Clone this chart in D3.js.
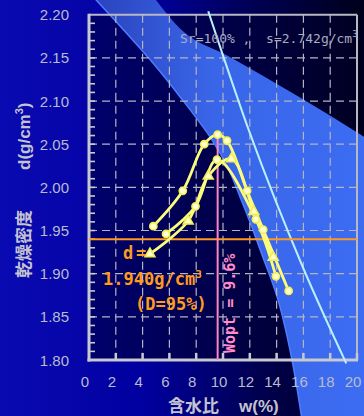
<!DOCTYPE html>
<html>
<head>
<meta charset="utf-8">
<script src="https://d3js.org/d3.v7.min.js"></script>
<style>
  html, body { margin: 0; padding: 0; background: #000040; }
  svg { display: block; }
</style>
</head>
<body>
<div id="chart"></div>
<script>
// compaction curves (w %, dry density g/cm3)
var seriesA = [[4.8,1.955],[7.0,1.996],[8.6,2.050],[9.6,2.061],[10.3,2.054],[11.8,1.996],[13.0,1.951],[14.9,1.880]];
var seriesB = [[5.75,1.946],[7.95,1.978],[9.55,2.032],[12.45,1.963],[13.95,1.897]];
var seriesC = [[4.55,1.923],[7.4,1.961],[8.9,2.013],[10.63,2.033],[12.3,1.972],[13.75,1.919]];

// zero air voids line (Sr = 100%)
var srLine = [[8.9,2.204],[12,2.063],[16,1.906],[19.2,1.796]];

// light band behind the plot
var bandUpper = [[4.95,2.218],[6.79,2.184],[10.52,2.151],[15.75,2.104],[20.6,2.058]];
var bandCorner = [[20.6,1.72]];
var bandLower = [[0.0,2.226],[4.55,2.148],[6.79,2.105],[9.18,2.055],[10.45,2.020],[11.27,1.989],[12.01,1.960],[12.91,1.922],[14.1,1.870],[15.15,1.800],[16.0,1.72]];

var dRef = 1.940, wOpt = 9.6, dMax = 2.061;

var xTicks = [0,2,4,6,8,10,12,14,16,18,20];
var yTicks = [1.80,1.85,1.90,1.95,2.00,2.05,2.10,2.15,2.20];

var W = 364, H = 416;
var x = d3.scaleLinear().domain([0,20]).range([89,357]);
var y = d3.scaleLinear().domain([1.8,2.2]).range([360,14.7]);

var svg = d3.select("#chart").append("svg")
  .attr("width", W).attr("height", H);

var defs = svg.append("defs");
var bg = defs.append("linearGradient").attr("id","bg")
  .attr("gradientUnits","userSpaceOnUse")
  .attr("x1",0).attr("y1",0).attr("x2",W).attr("y2",0);
bg.append("stop").attr("offset",0).attr("stop-color","#0a0ab2");
bg.append("stop").attr("offset",0.4).attr("stop-color","#0000a0");
bg.append("stop").attr("offset",0.7).attr("stop-color","#000052");
bg.append("stop").attr("offset",1).attr("stop-color","#00001c");

var pf = defs.append("linearGradient").attr("id","pf")
  .attr("gradientUnits","userSpaceOnUse")
  .attr("x1",89).attr("y1",0).attr("x2",357).attr("y2",0);
pf.append("stop").attr("offset",0).attr("stop-color","#00006e");
pf.append("stop").attr("offset",1).attr("stop-color","#000024");

var bf = defs.append("linearGradient").attr("id","bf")
  .attr("gradientUnits","userSpaceOnUse")
  .attr("x1",90).attr("y1",0).attr("x2",364).attr("y2",0);
bf.append("stop").attr("offset",0).attr("stop-color","#2a42bc");
bf.append("stop").attr("offset",0.45).attr("stop-color","#3966e8");
bf.append("stop").attr("offset",1).attr("stop-color","#3c6cf2");

svg.append("rect").attr("width",W).attr("height",H).attr("fill","url(#bg)");
svg.append("rect")
  .attr("x",x(0)).attr("y",y(2.2))
  .attr("width",x(20)-x(0)).attr("height",y(1.8)-y(2.2))
  .attr("fill","url(#pf)");

// band
function px(d){ return x(d[0]); }
function py(d){ return y(d[1]); }
var upperLine = d3.line().x(px).y(py).curve(d3.curveMonotoneX);
var lowerLine = d3.line().x(px).y(py).curve(d3.curveCatmullRom);
var corner = bandCorner.map(function(d){ return "L" + px(d) + "," + py(d); }).join("");
var lowerRev = bandLower.slice().reverse();
svg.append("path")
  .attr("d", upperLine(bandUpper) + corner + lowerLine(lowerRev).replace(/^M/,"L") + "Z")
  .attr("fill","url(#bf)");
svg.append("path")
  .attr("d", lowerLine(bandLower))
  .attr("fill","none").attr("stroke","#4c7cff").attr("stroke-width",1.5);

// grid
var grid = svg.append("g").attr("stroke","#b4b4c4").attr("stroke-width",1.2)
  .attr("stroke-dasharray","8,5");
grid.selectAll(".vg").data(xTicks.slice(1,-1)).enter().append("line")
  .attr("x1",function(d){return x(d);}).attr("x2",function(d){return x(d);})
  .attr("y1",y(2.2)).attr("y2",y(1.8));
grid.selectAll(".hg").data(yTicks.slice(1,-1)).enter().append("line")
  .attr("y1",function(d){return y(d);}).attr("y2",function(d){return y(d);})
  .attr("x1",x(0)).attr("x2",x(20));

// frame
svg.append("line").attr("x1",x(0)).attr("x2",x(20)).attr("y1",y(2.2)).attr("y2",y(2.2))
  .attr("stroke","#b8b8c4").attr("stroke-width",2);
svg.append("line").attr("x1",x(20)).attr("x2",x(20)).attr("y1",y(2.2)).attr("y2",y(1.8))
  .attr("stroke","#b8b8c4").attr("stroke-width",2);

var minor = d3.range(181,220).map(function(v){return v/100;});
svg.append("g").selectAll("line").data(minor).enter().append("line")
  .attr("x1",x(0)).attr("x2",x(0)+6)
  .attr("y1",function(d){return y(d);}).attr("y2",function(d){return y(d);})
  .attr("stroke","#c8c8d0").attr("stroke-width",1.6);
svg.append("g").selectAll("line").data(xTicks.slice(1)).enter().append("line")
  .attr("x1",function(d){return x(d);}).attr("x2",function(d){return x(d);})
  .attr("y1",y(1.8)).attr("y2",y(1.8)-7)
  .attr("stroke","#c8c8d0").attr("stroke-width",2.5);
svg.append("line").attr("x1",x(0)).attr("x2",x(0)).attr("y1",y(2.2)-1).attr("y2",y(1.8)+1.5)
  .attr("stroke","#c8c8d0").attr("stroke-width",3);
svg.append("line").attr("x1",x(0)-1.5).attr("x2",x(20)+1).attr("y1",y(1.8)).attr("y2",y(1.8))
  .attr("stroke","#c8c8d0").attr("stroke-width",3);

// tick labels
svg.append("g").selectAll("text").data(yTicks).enter().append("text")
  .attr("x",69).attr("y",function(d){return y(d)+5.5;})
  .attr("text-anchor","end")
  .style("font-family","'Liberation Sans', Arial, sans-serif").style("font-size","15px")
  .attr("fill","#b8bccc").text(d3.format(".2f"));
svg.append("g").selectAll("text").data(xTicks).enter().append("text")
  .attr("x",function(d){return x(d)-4;}).attr("y",387)
  .attr("text-anchor","middle")
  .style("font-family","'Liberation Sans', Arial, sans-serif").style("font-size","15px")
  .attr("fill","#b8bccc").text(function(d){return d;});

// axis titles
svg.append("text").attr("x",168).attr("y",412)
  .style("font-family","'Noto Sans CJK JP', sans-serif").style("font-size","17px").style("font-weight","bold")
  .attr("fill","#c4c4d0").text("含水比");
svg.append("text").attr("x",239).attr("y",412)
  .style("font-family","'Liberation Sans', Arial, sans-serif").style("font-size","17px").style("font-weight","bold")
  .attr("fill","#c4c4d0").text("w(%)");
svg.append("text").attr("transform","translate(30,278) rotate(-90)")
  .style("font-family","'Noto Sans CJK JP', sans-serif").style("font-size","17px").style("font-weight","bold")
  .attr("fill","#c4c4d0").text("乾燥密度");
var yt = svg.append("text").attr("transform","translate(30,170) rotate(-90)")
  .style("font-family","'Liberation Sans', Arial, sans-serif").style("font-size","17px").style("font-weight","bold")
  .attr("fill","#c4c4d0");
yt.append("tspan").text("d(g/cm");
yt.append("tspan").attr("dy",-7).style("font-size","11px").text("3");
yt.append("tspan").attr("dy",7).text(")");

// saturation line
svg.append("path").attr("d", d3.line().x(px).y(py).curve(d3.curveMonotoneX)(srLine))
  .attr("fill","none").attr("stroke","#b8f0ff").attr("stroke-width",2);

var st = svg.append("text").attr("x",180).attr("y",43).attr("xml:space","preserve")
  .style("white-space","pre")
  .style("font-family","'DejaVu Sans Mono', monospace").style("font-size","13px")
  .attr("fill","#acacc0");
st.append("tspan").text("Sr=100% ,  s=2.742g/cm");
st.append("tspan").attr("dy",-6).style("font-size","9px").text("3");

// reference lines
svg.append("line").attr("x1",x(0)).attr("x2",x(20)).attr("y1",y(dRef)).attr("y2",y(dRef))
  .attr("stroke","#ff9a1e").attr("stroke-width",2);
svg.append("line").attr("x1",x(wOpt)).attr("x2",x(wOpt)).attr("y1",y(dMax)).attr("y2",y(1.8))
  .attr("stroke","#ff84c4").attr("stroke-width",2);

// curves
var smooth = d3.line().x(px).y(py).curve(d3.curveCatmullRom.alpha(0.5));
[seriesA, seriesB, seriesC].forEach(function(s){
  svg.append("path").attr("d", smooth(s))
    .attr("fill","none").attr("stroke","#fcfc7c").attr("stroke-width",2.8)
    .attr("stroke-linejoin","round");
});
[seriesA, seriesB].forEach(function(s){
  svg.append("g").selectAll("circle").data(s).enter().append("circle")
    .attr("cx",px).attr("cy",py)
    .attr("r",3.6).attr("fill","#ffffd2").attr("stroke","#f2ee50").attr("stroke-width",1.6);
});
svg.append("g").selectAll("path").data(seriesC).enter().append("path")
  .attr("d", d3.symbol().type(d3.symbolTriangle).size(42))
  .attr("transform",function(d){return "translate(" + px(d) + "," + py(d) + ")";})
  .attr("fill","#ffffd2").attr("stroke","#f2ee50").attr("stroke-width",1.6);

// annotations
var mono = "'DejaVu Sans Mono', 'Liberation Mono', monospace";
var t1 = svg.append("text").attr("y",259)
  .style("font-family",mono).style("font-size","17px").style("font-weight","bold")
  .attr("fill","#ff9c1a");
t1.append("tspan").attr("x",123).text("d");
t1.append("tspan").attr("x",136).text("=");
var t2 = svg.append("text").attr("x",103).attr("y",285)
  .style("font-family",mono).style("font-size","17px").style("font-weight","bold")
  .attr("fill","#ff9c1a");
t2.append("tspan").text("1.940g/cm");
t2.append("tspan").attr("dy",-7).style("font-size","11px").text("3");
svg.append("text").attr("x",135).attr("y",310)
  .style("font-family",mono).style("font-size","17px").style("font-weight","bold")
  .attr("fill","#ff9c1a").text("(D=95%)");

svg.append("text").attr("transform","translate(235,353) rotate(-90)")
  .style("font-family",mono).style("font-size","15px").style("font-weight","bold")
  .attr("fill","#ff8cc8").text("Wopt = 9.6%");
</script>
</body>
</html>
